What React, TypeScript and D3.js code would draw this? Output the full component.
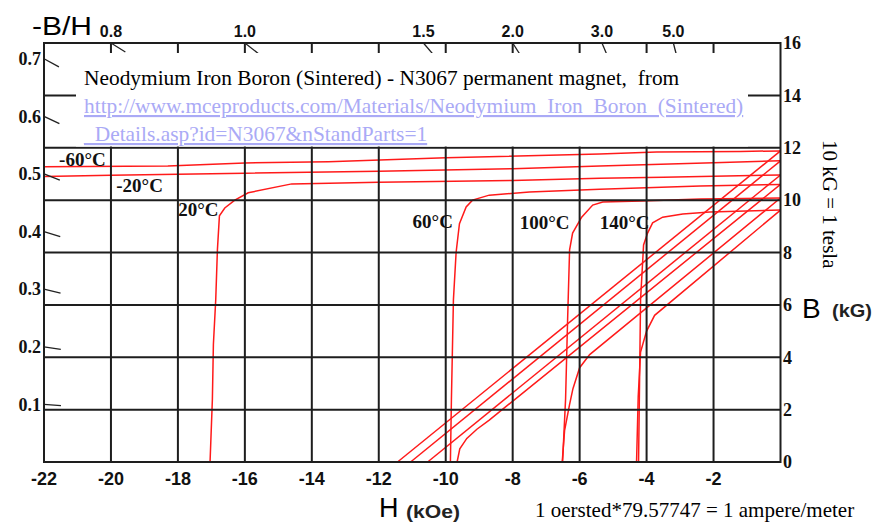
import React from "react";
import * as d3 from "d3";

// ---- data (H in kOe, B in kG) ----
const temps = ["-60°C", "-20°C", "20°C", "60°C", "100°C", "140°C"];

const intrinsicM60: [number, number][] = [[-22, 11.27], [-18.3, 11.3], [-16, 11.42], [-13.5, 11.47], [-10, 11.62], [-5.4, 11.76], [-3.7, 11.84], [-1.2, 11.86], [0, 11.88]];
const intrinsicM20: [number, number][] = [[-22, 10.9], [-20, 10.95], [-16, 11.03], [-12, 11.1], [-8, 11.2], [-5.4, 11.3], [-2, 11.43], [0, 11.5]];
const intrinsic20: [number, number][] = [[-17.04, 0], [-16.97, 2.4], [-16.94, 4.5], [-16.87, 6.2], [-16.82, 8.1], [-16.76, 9.4], [-16.6, 9.7], [-16.3, 10.0], [-15.9, 10.28], [-14.6, 10.62], [-12, 10.68], [-8, 10.75], [-5.4, 10.84], [-3.5, 10.87], [0, 10.96]];
const intrinsic60: [number, number][] = [[-9.86, 0], [-9.83, 2.4], [-9.77, 6.2], [-9.69, 8.0], [-9.59, 9.1], [-9.39, 9.74], [-9.2, 10.0], [-8.7, 10.19], [-7.5, 10.31], [-5.4, 10.42], [-2.4, 10.54], [0, 10.6]];
const intrinsic100: [number, number][] = [[-6.51, 0], [-6.42, 2.4], [-6.36, 5.4], [-6.3, 8.1], [-6.21, 8.74], [-5.94, 9.35], [-5.61, 9.81], [-5.31, 9.93], [-4.15, 9.97], [-2.4, 10.04], [0, 10.08]];
const intrinsic140: [number, number][] = [[-4.24, 0], [-4.18, 6.2], [-4.09, 8.29], [-3.97, 8.74], [-3.82, 9.13], [-3.52, 9.35], [-2.92, 9.47], [-2.11, 9.55], [0, 9.62]];

const normalM60: [number, number][] = [[-11.44, 0], [0, 11.88]];
const normalM20: [number, number][] = [[-11.05, 0], [0, 11.5]];
const normal20: [number, number][] = [[-10.54, 0], [0, 10.96]];
const normal60: [number, number][] = [[-9.66, 0], [-9.58, 0.5], [-9.37, 0.9], [-9.07, 1.25], [-8.7, 1.6], [0, 10.6]];
const normal100: [number, number][] = [[-6.52, 0], [-6.45, 1.2], [-6.3, 2.2], [-6.2, 2.8], [-6.0, 3.6], [-5.7, 4.1], [0, 10.08]];
const normal140: [number, number][] = [[-4.3, 0], [-4.25, 2.5], [-4.18, 4.2], [-4.0, 5.0], [-3.76, 5.6], [0, 9.62]];

const intrinsicCurves = [intrinsicM60, intrinsicM20, intrinsic20, intrinsic60, intrinsic100, intrinsic140];
const normalCurves = [normalM60, normalM20, normal20, normal60, normal100, normal140];

// temperature label anchors (H, B)
const tempLabelAt: [number, number][] = [[-21.55, 11.3], [-19.84, 10.31], [-17.99, 9.39], [-10.99, 8.93], [-7.79, 8.9], [-5.4, 8.9]];

const xTicks = [-22, -20, -18, -16, -14, -12, -10, -8, -6, -4, -2];
const xGrid = [-20, -18, -16, -14, -12, -10, -8, -6, -4, -2];
const yTicks = [0, 2, 4, 6, 8, 10, 12, 14, 16];
const yGrid = [2, 4, 6, 8, 10, 12, 14];
const pcLeft = [0.7, 0.6, 0.5, 0.4, 0.3, 0.2, 0.1];
const pcTop = [0.8, 1.0, 1.5, 2.0, 3.0, 5.0];

const titleLine = "Neodymium Iron Boron (Sintered) - N3067 permanent magnet,  from";
const linkLine1 = "http://www.mceproducts.com/Materials/Neodymium_Iron_Boron_(Sintered)";
const linkLine2 = "_Details.asp?id=N3067&nStandParts=1";

const SERIF = "'Liberation Serif', 'Times New Roman', serif";
const SANS = "'Liberation Sans', Arial, sans-serif";

export default function App() {
  const x = d3.scaleLinear().domain([-22, 0]).range([44, 780.5]);
  const y = d3.scaleLinear().domain([0, 16]).range([462, 43]);
  const line = d3.line<[number, number]>().x((d) => x(d[0])).y((d) => y(d[1]));

  const tickLen = 17;
  const loadTick = (h: number, b: number, key: string) => {
    // direction towards origin along load line
    const x0 = x(h), y0 = y(b);
    const x1 = x(0), y1 = y(0);
    const dx = x1 - x0, dy = y1 - y0;
    const L = Math.hypot(dx, dy);
    return (
      <line key={key} x1={x0} y1={y0} x2={x0 + (dx / L) * tickLen} y2={y0 + (dy / L) * tickLen} stroke="#222" strokeWidth={1.3} />
    );
  };

  return (
    <svg width={888} height={524} style={{ position: "absolute", left: 0, top: 0, background: "#fff" }}>
      <rect x={0} y={0} width={888} height={524} fill="#fff" />

      {/* curves */}
      <g fill="none" stroke="#ff1a1a" strokeWidth={1.5}>
        {intrinsicCurves.map((c, i) => (
          <path key={"i" + i} d={line(c) || ""} />
        ))}
        {normalCurves.map((c, i) => (
          <path key={"n" + i} d={line(c) || ""} />
        ))}
      </g>

      {/* grid */}
      <g stroke="#1e1e1e" strokeWidth={2}>
        {xGrid.map((h) => (
          <line key={"gx" + h} x1={x(h)} x2={x(h)} y1={y(16)} y2={y(0)} />
        ))}
        {yGrid.map((b) => (
          <line key={"gy" + b} x1={x(-22)} x2={x(0)} y1={y(b)} y2={y(b)} />
        ))}
      </g>

      {/* load line ticks */}
      {pcLeft.map((pc) => loadTick(-22, 22 * pc, "pl" + pc))}
      {pcTop.map((pc) => loadTick(-16 / pc, 16, "pt" + pc))}

      {/* text box */}
      <rect x={76} y={53} width={672} height={93.5} fill="#fff" />
      <text x={84} y={85} fontFamily={SERIF} fontSize={21.4} fill="#000" style={{ whiteSpace: "pre" }}>{titleLine}</text>
      <text x={84} y={113} fontFamily={SERIF} fontSize={21.4} fill="#aaaaf6" textDecoration="underline">{linkLine1}</text>
      <text x={84} y={141} fontFamily={SERIF} fontSize={21.4} fill="#aaaaf6" textDecoration="underline">{linkLine2}</text>

      {/* frame */}
      <rect x={x(-22)} y={y(16)} width={x(0) - x(-22)} height={y(0) - y(16)} fill="none" stroke="#1e1e1e" strokeWidth={2} />

      {/* temperature labels */}
      {temps.map((t, i) => (
        <text key={"t" + i} x={x(tempLabelAt[i][0])} y={y(tempLabelAt[i][1])} fontFamily={SERIF} fontWeight="bold" fontSize={19} fill="#111">{t}</text>
      ))}

      {/* left -B/H labels */}
      {pcLeft.map((pc) => (
        <text key={"lpc" + pc} x={41} y={y(22 * pc)} dy="0.35em" textAnchor="end" fontFamily={SERIF} fontWeight="bold" fontSize={18} fill="#111">{pc.toFixed(1)}</text>
      ))}
      {/* top -B/H labels */}
      {pcTop.map((pc) => (
        <text key={"tpc" + pc} x={x(-16 / pc)} y={37} textAnchor="middle" fontFamily={SANS} fontWeight="bold" fontSize={16} fill="#111">{pc.toFixed(1)}</text>
      ))}
      {/* right B labels */}
      {yTicks.map((b) => (
        <text key={"rb" + b} x={783} y={y(b)} dy="0.35em" fontFamily={SERIF} fontWeight="bold" fontSize={18} fill="#111">{b}</text>
      ))}
      {/* bottom H labels */}
      {xTicks.map((h) => (
        <text key={"bh" + h} x={x(h)} y={485} textAnchor="middle" fontFamily={SANS} fontWeight="bold" fontSize={18} fill="#111">{h}</text>
      ))}

      {/* axis titles */}
      <text x={32} y={35} fontFamily={SANS} fontSize={26} textLength={60} lengthAdjust="spacingAndGlyphs" fill="#000">-B/H</text>
      <text x={379} y={517} fontFamily={SANS} fontSize={27} fill="#000">H</text>
      <text x={406} y={518} fontFamily={SANS} fontWeight="bold" fontSize={19} textLength={54} lengthAdjust="spacingAndGlyphs" fill="#222">(kOe)</text>
      <text x={802} y={318} fontFamily={SANS} fontSize={28} fill="#000">B</text>
      <text x={832} y={317} fontFamily={SANS} fontWeight="bold" fontSize={19} textLength={40} lengthAdjust="spacingAndGlyphs" fill="#222">(kG)</text>
      <text transform="translate(823,140) rotate(90)" fontFamily={SERIF} fontSize={21} fill="#000" style={{ whiteSpace: "pre" }}>10 kG = 1 tesla</text>
      <text x={535} y={517} fontFamily={SERIF} fontSize={21} fill="#000">1 oersted*79.57747 = 1 ampere/meter</text>
    </svg>
  );
}
